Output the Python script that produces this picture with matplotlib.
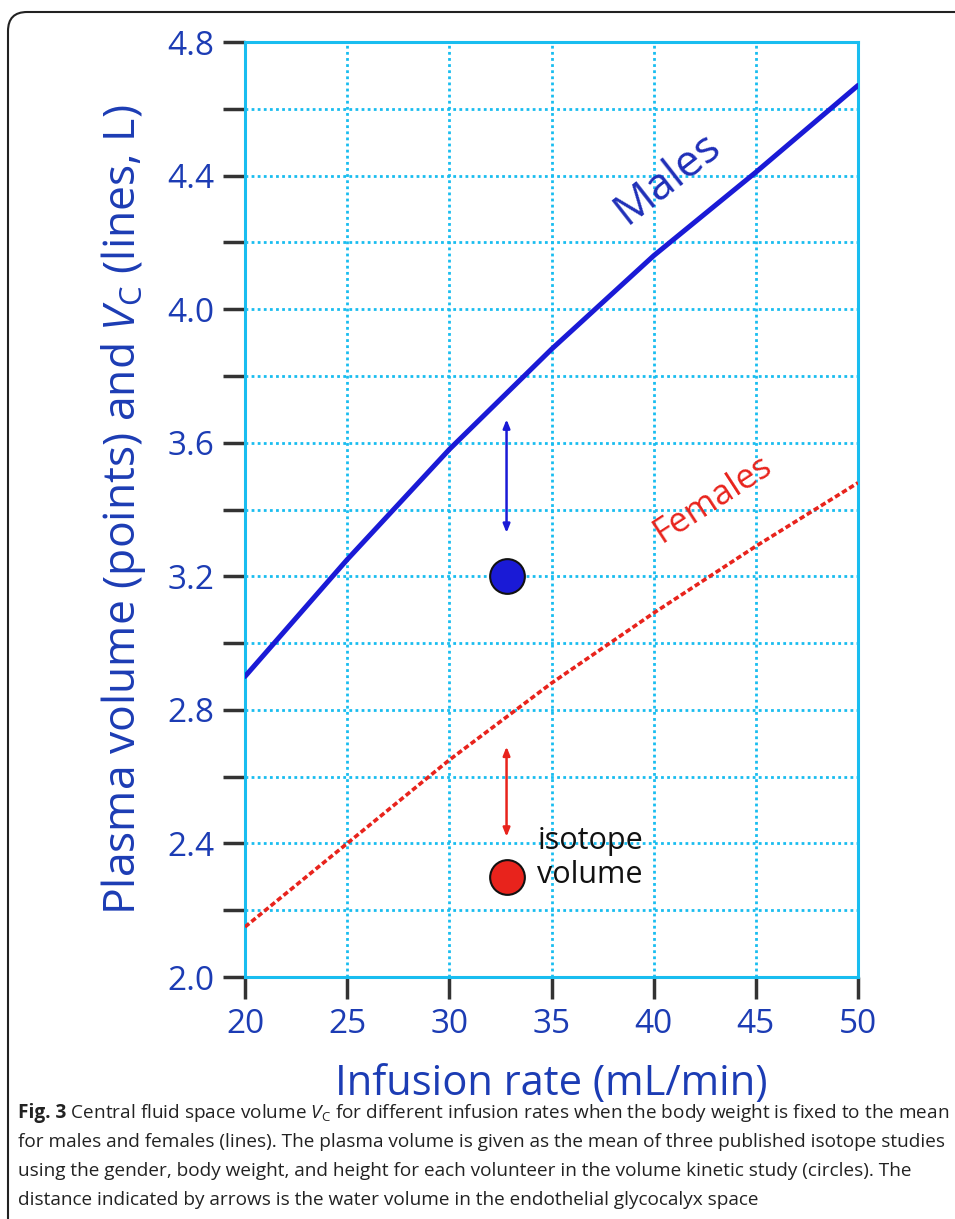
import matplotlib.pyplot as plt
from matplotlib.patches import FancyBboxPatch
import numpy as np

plt.rcParams['font.family'] = ['Open Sans', 'DejaVu Sans']
plt.rcParams['mathtext.fontset'] = 'custom'
plt.rcParams['mathtext.rm'] = 'Open Sans'
plt.rcParams['mathtext.it'] = 'Open Sans:italic'

# data
rate = [20, 25, 30, 35, 40, 45, 50]
males_vc = [2.90, 3.25, 3.58, 3.88, 4.16, 4.41, 4.67]
females_vc = [2.15, 2.40, 2.65, 2.88, 3.09, 3.29, 3.48]
pt_rate = [32.8, 32.8]
pt_volume = [3.20, 2.30]
arrow_lo = [3.33, 2.42]
arrow_hi = [3.67, 2.69]

BLUE_TXT = '#1c3cb4'
MALE = '#1a1ad6'
FEMALE = '#e8231c'
CYAN = '#19bdf0'
TICK = '#333333'

fig = plt.figure(figsize=(9.55, 12.19), dpi=100)

# rounded frame around the figure
frame = FancyBboxPatch((8 / 955, -0.05), 1.2, 1 - 12 / 1219 + 0.05,
                       boxstyle='round,pad=0,rounding_size=0.02',
                       transform=fig.transFigure, fill=False,
                       edgecolor='#222222', linewidth=1.5, mutation_aspect=955 / 1219)
fig.patches.append(frame)

ax = fig.add_axes([245 / 955, 1 - 977 / 1219, 613 / 955, 935 / 1219])

ax.plot(rate, males_vc, color=MALE, linewidth=3.6, solid_capstyle='round', zorder=4)
ax.plot(rate, females_vc, color=FEMALE, linewidth=2.6, linestyle=(0, (1.5, 0.8)), zorder=4)

colors = [MALE, FEMALE]
for i in range(2):
    ax.annotate('', xy=(pt_rate[i], arrow_hi[i]), xytext=(pt_rate[i], arrow_lo[i]),
                arrowprops=dict(arrowstyle='<|-|>,head_length=0.5,head_width=0.2',
                                color=colors[i], linewidth=1.8, shrinkA=0, shrinkB=0),
                zorder=5)
    ax.plot(pt_rate[i], pt_volume[i], 'o', markersize=25, markerfacecolor=colors[i],
            markeredgecolor='#111111', markeredgewidth=1.5, zorder=6)

ax.text(40.7, 4.39, 'Males', color='#1f2fb8', fontsize=32, rotation=38,
        ha='center', va='center', rotation_mode='anchor')
ax.text(42.9, 3.43, 'Females', color=FEMALE, fontsize=25, rotation=33,
        ha='center', va='center', rotation_mode='anchor')
ax.text(34.3, 2.356, 'isotope\nvolume', color='#111111', fontsize=22,
        ha='left', va='center', linespacing=1.2)

ax.set_xlim(20, 50)
ax.set_ylim(2.0, 4.8)
ax.set_xticks(np.arange(20, 51, 5))
ax.set_yticks(np.arange(2.0, 4.81, 0.4))
ax.set_yticks(np.arange(2.2, 4.8, 0.4), minor=True)
ax.set_yticklabels([f'{v:.1f}' for v in np.arange(2.0, 4.81, 0.4)])
ax.tick_params(axis='both', which='both', direction='out', length=16, width=2.5,
               color=TICK, labelcolor=BLUE_TXT, labelsize=24, pad=6)
ax.grid(True, which='both', color=CYAN, linestyle=(0, (1, 1.2)), linewidth=2)
ax.set_axisbelow(True)
for s in ax.spines.values():
    s.set_color(CYAN)
    s.set_linewidth(2.2)

ax.set_xlabel('Infusion rate (mL/min)', color=BLUE_TXT, fontsize=30, labelpad=16)
ax.set_ylabel(r'Plasma volume (points) and $V_\mathrm{C}$ (lines, L)', color=BLUE_TXT,
              fontsize=32, labelpad=14)

# caption
lines = [
    r' Central fluid space volume $V_\mathrm{C}$ for different infusion rates when the body weight is fixed to the mean',
    'for males and females (lines). The plasma volume is given as the mean of three published isotope studies',
    'using the gender, body weight, and height for each volunteer in the volume kinetic study (circles). The',
    'distance indicated by arrows is the water volume in the endothelial glycocalyx space',
]
x0 = 18 / 955
y0 = 1 - 1113 / 1219
dy = 29 / 1219

# fit the first caption line into the frame width
renderer = fig.canvas.get_renderer()
cap_size = 15
for _ in range(3):
    b = fig.text(x0, y0, 'Fig. 3', fontsize=cap_size, fontweight='bold', va='center')
    r = fig.text(0, y0, lines[0], fontsize=cap_size, va='center')
    w = b.get_window_extent(renderer).width + r.get_window_extent(renderer).width
    b.remove()
    r.remove()
    cap_size = cap_size * 928 / w

bold = fig.text(x0, y0, 'Fig. 3', fontsize=cap_size, fontweight='bold', va='center', color='#222222')
bb = bold.get_window_extent(renderer)
fig.text(bb.x1 / 955, y0, lines[0], fontsize=cap_size, va='center', color='#222222')
for k in range(1, 4):
    fig.text(x0, y0 - k * dy, lines[k], fontsize=cap_size, va='center', color='#222222')

fig.savefig('out.png', dpi=100)
